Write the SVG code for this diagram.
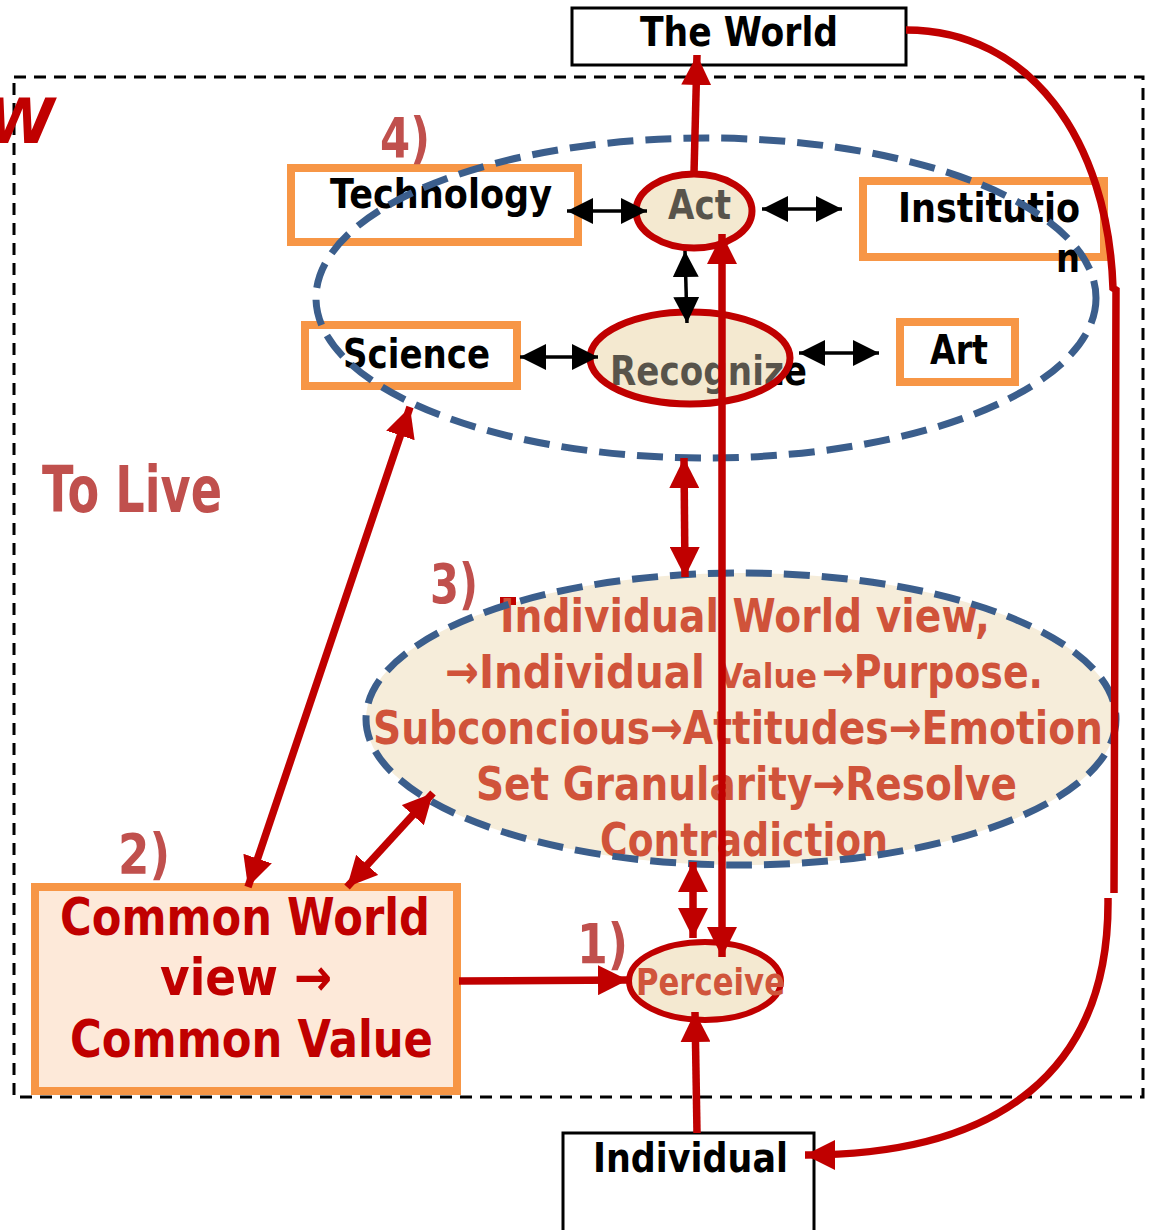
<svg xmlns="http://www.w3.org/2000/svg" width="1149" height="1230" viewBox="0 0 1149 1230">
<style>
text{font-family:"DejaVu Sans","Liberation Sans",sans-serif;font-weight:bold;}
.blk{fill:#000;font-size:41px;}
.num{fill:#C0504D;font-size:56px;}
.ell{fill:#D0533A;font-size:47px;}
.cw{fill:#C00000;font-size:52px;}
.obox{fill:#fff;stroke:#F79646;stroke-width:8;}
.kbox{fill:#fff;stroke:#000;stroke-width:3;}
.blue{fill:none;stroke:#3B5E8C;stroke-width:7;stroke-dasharray:26 12;}
.red{fill:none;stroke:#C00000;stroke-width:7.5;}
.blk-ln{fill:none;stroke:#000;stroke-width:3.5;}
</style>
<defs>
<marker id="ra" viewBox="0 0 30 30" refX="30" refY="15" markerWidth="30" markerHeight="30" markerUnits="userSpaceOnUse" orient="auto-start-reverse"><path d="M0,0 L30,15 L0,30 Z" fill="#C00000"/></marker>
<marker id="ka" viewBox="0 0 26 26" refX="26" refY="13" markerWidth="26" markerHeight="26" markerUnits="userSpaceOnUse" orient="auto-start-reverse"><path d="M0,0 L26,13 L0,26 Z" fill="#000"/></marker>
</defs>

<rect x="14" y="77" width="1129" height="1020" fill="none" stroke="#000" stroke-width="3" stroke-dasharray="12 8"/>
<text x="-14" y="143" fill="#C00000" font-size="62" font-style="italic">W</text>

<g id="the-world"><rect class="kbox" x="572" y="8" width="334" height="57"/><text class="blk" x="640" y="46" textLength="198" lengthAdjust="spacingAndGlyphs">The World</text></g>
<g id="technology"><rect class="obox" x="291" y="168" width="287" height="74"/><text class="blk" x="330" y="208" textLength="222" lengthAdjust="spacingAndGlyphs">Technology</text></g>
<g id="science"><rect class="obox" x="305" y="325" width="212" height="61"/><text class="blk" x="343" y="368" textLength="147" lengthAdjust="spacingAndGlyphs">Science</text></g>
<g id="institution"><rect class="obox" x="863" y="181" width="241" height="76"/><text class="blk" x="898" y="222" textLength="182" lengthAdjust="spacingAndGlyphs">Institutio</text><text class="blk" x="1056" y="272" textLength="24" lengthAdjust="spacingAndGlyphs">n</text></g>
<g id="art"><rect class="obox" x="900" y="322" width="115" height="60"/><text class="blk" x="930" y="364" textLength="58" lengthAdjust="spacingAndGlyphs">Art</text></g>

<g id="upper-ellipse"><ellipse class="blue" cx="706" cy="298" rx="390" ry="160"/></g>

<g id="act"><ellipse cx="694" cy="211" rx="58" ry="37" fill="#F4E9D1"/><text class="blk" x="668" y="219" textLength="63" lengthAdjust="spacingAndGlyphs">Act</text><ellipse cx="694" cy="211" rx="58" ry="37" fill="#F4E9D1" fill-opacity="0.36" stroke="#C00000" stroke-width="7"/></g>
<g id="recognize"><ellipse cx="690" cy="358" rx="100" ry="46" fill="#F4E9D1"/><text class="blk" x="610" y="385" textLength="197" lengthAdjust="spacingAndGlyphs">Recognize</text><ellipse cx="690" cy="358" rx="100" ry="46" fill="#F4E9D1" fill-opacity="0.36" stroke="#C00000" stroke-width="7"/></g>

<g id="to-live"><text x="42" y="512" fill="#C0504D" font-size="64" textLength="180" lengthAdjust="spacingAndGlyphs">To Live</text></g>
<g id="labels">
<text class="num" x="380" y="157" textLength="50" lengthAdjust="spacingAndGlyphs">4)</text>
<text class="num" x="430" y="603" textLength="48" lengthAdjust="spacingAndGlyphs">3)</text>
<text class="num" x="118" y="873" textLength="52" lengthAdjust="spacingAndGlyphs">2)</text>
<text class="num" x="577" y="963" textLength="51" lengthAdjust="spacingAndGlyphs">1)</text>
</g>

<g id="world-view">
<ellipse cx="741" cy="719" rx="375" ry="146" fill="#F6EDDA"/>
<rect x="500" y="597" width="16" height="8" fill="#C00000"/>
<text class="ell" x="500" y="632" textLength="490" lengthAdjust="spacingAndGlyphs">Individual World view,</text>
<text class="ell" y="688"><tspan x="445" textLength="260" lengthAdjust="spacingAndGlyphs">→Individual</tspan><tspan x="719" font-size="34" textLength="98" lengthAdjust="spacingAndGlyphs">Value</tspan><tspan x="822" textLength="221" lengthAdjust="spacingAndGlyphs">→Purpose.</tspan></text>
<text class="ell" x="373" y="744" textLength="730" lengthAdjust="spacingAndGlyphs">Subconcious→Attitudes→Emotion</text>
<text class="ell" x="476" y="800" textLength="541" lengthAdjust="spacingAndGlyphs">Set Granularity→Resolve</text>
<text class="ell" x="600" y="856" textLength="288" lengthAdjust="spacingAndGlyphs">Contradiction</text>
<ellipse class="blue" cx="741" cy="719" rx="375" ry="146"/>
</g>

<g id="common-value"><rect x="35" y="887" width="422" height="204" fill="#FDE9D9" stroke="#F79646" stroke-width="8"/>
<text class="cw" x="60" y="935" textLength="370" lengthAdjust="spacingAndGlyphs">Common World</text>
<text class="cw" x="160" y="995" textLength="172" lengthAdjust="spacingAndGlyphs">view →</text>
<text class="cw" x="70" y="1057" textLength="363" lengthAdjust="spacingAndGlyphs">Common Value</text></g>

<g id="perceive"><ellipse cx="705" cy="981" rx="76" ry="39" fill="#F4E9D1" stroke="#C00000" stroke-width="6"/><text x="636" y="995" fill="#D0553B" font-size="38" textLength="149" lengthAdjust="spacingAndGlyphs">Perceive</text></g>

<g id="individual"><rect class="kbox" x="563" y="1133" width="251" height="110"/><text class="blk" x="593" y="1172" textLength="195" lengthAdjust="spacingAndGlyphs">Individual</text></g>

<g id="connectors">
<path class="blk-ln" d="M567,211 L647,211" marker-start="url(#ka)" marker-end="url(#ka)"/>
<path class="blk-ln" d="M762,209 L842,209" marker-start="url(#ka)" marker-end="url(#ka)"/>
<path class="blk-ln" d="M685,251 L687,323" marker-start="url(#ka)" marker-end="url(#ka)"/>
<path class="blk-ln" d="M520,357 L598,357" marker-start="url(#ka)" marker-end="url(#ka)"/>
<path class="blk-ln" d="M799,353 L879,353" marker-start="url(#ka)" marker-end="url(#ka)"/>

<path class="red" d="M694,173 L697,55" marker-end="url(#ra)"/>
<path class="red" d="M722,957 L722,234" marker-start="url(#ra)" marker-end="url(#ra)"/>
<path class="red" d="M684,458 L685,577" marker-start="url(#ra)" marker-end="url(#ra)"/>
<path class="red" d="M693,862 L693,938" marker-start="url(#ra)" marker-end="url(#ra)"/>
<path class="red" d="M410,407 L248,887" marker-start="url(#ra)" marker-end="url(#ra)"/>
<path class="red" d="M433,793 L347,887" marker-start="url(#ra)" marker-end="url(#ra)"/>
<path class="red" d="M459,981 L628,980" stroke-width="11" marker-end="url(#ra)"/>
<path class="red" d="M697,1133 L695,1012" marker-end="url(#ra)"/>
<path class="red" d="M906,30 C1030,30 1108,140 1113,288 L1116,290 L1114,893"/>
<path class="red" d="M1108,898 C1110,1070 1000,1155 805,1155" marker-end="url(#ra)"/>
</g>
</svg>
